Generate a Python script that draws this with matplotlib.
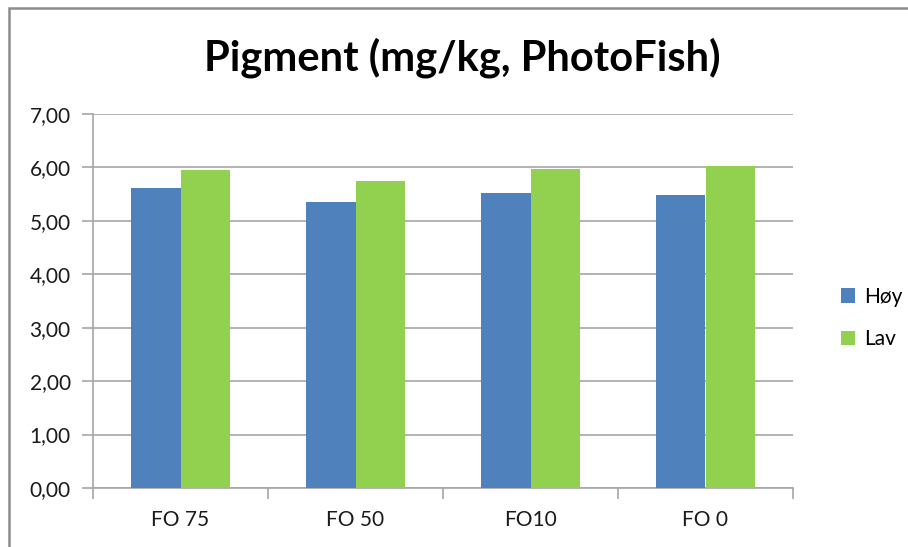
import matplotlib
matplotlib.use("Agg")
import matplotlib.pyplot as plt
import numpy as np
from matplotlib.patches import Rectangle

categories = ["FO 75", "FO 50", "FO10", "FO 0"]
hoy = [5.61, 5.35, 5.52, 5.48]
lav = [5.95, 5.75, 5.97, 6.02]
yticks = [0, 1, 2, 3, 4, 5, 6, 7]
ytick_labels = ["0,00", "1,00", "2,00", "3,00", "4,00", "5,00", "6,00", "7,00"]

plt.rcParams['font.family'] = ['Lato', 'DejaVu Sans']

W, H = 908, 547
fig = plt.figure(figsize=(W / 100, H / 100), dpi=100)
# plot area in pixels: left 93, right 793, top 114, bottom 488
ax = fig.add_axes([93 / W, 1 - 488 / H, (793 - 93) / W, (488 - 114) / H])

# outer chart border (cropped on right and bottom)
fig.patches.append(Rectangle((9 / W, -0.5), 2, 1.5 - 8 / H, transform=fig.transFigure,
                             fill=False, edgecolor='#8c8c8c', linewidth=1.8))

x = np.arange(len(categories))
w = 0.283
ax.bar(x - w / 2, hoy, w, color='#4F81BD', label='Høy', zorder=3)
ax.bar(x + w / 2, lav, w, color='#92D050', label='Lav', zorder=3)

ax.set_xlim(-0.5, len(categories) - 0.5)
ax.set_ylim(0, 7)
ax.set_yticks(yticks)
ax.set_yticklabels(ytick_labels, fontsize=15, color='#1a1a1a')
ax.yaxis.grid(True, color='#a6a6a6', linewidth=1.2, zorder=0)

ax.set_xticks(x)
ax.set_xticklabels(categories, fontsize=15, color='#1a1a1a')
ax.tick_params(axis='x', length=0, pad=16)
ax.set_xticks(np.arange(-0.5, len(categories)), minor=True)
ax.tick_params(axis='x', which='minor', length=8, color='#a6a6a6', width=1.2)
ax.tick_params(axis='y', length=8, color='#a6a6a6', width=1.2, pad=8)

for s in ['top', 'right']:
    ax.spines[s].set_visible(False)
for s in ['left', 'bottom']:
    ax.spines[s].set_color('#a6a6a6')
    ax.spines[s].set_linewidth(1.2)

fig.text(462 / W, 1 - 58 / H, "Pigment (mg/kg, PhotoFish)", fontsize=30, fontweight='bold',
         ha='center', va='center')

fig.legend(loc='center left', bbox_to_anchor=(822 / W, 1 - 318 / H), frameon=False,
           fontsize=15, handlelength=0.7, handleheight=0.7, labelspacing=1.1, handletextpad=0.4)

fig.savefig("out.png", dpi=100)
